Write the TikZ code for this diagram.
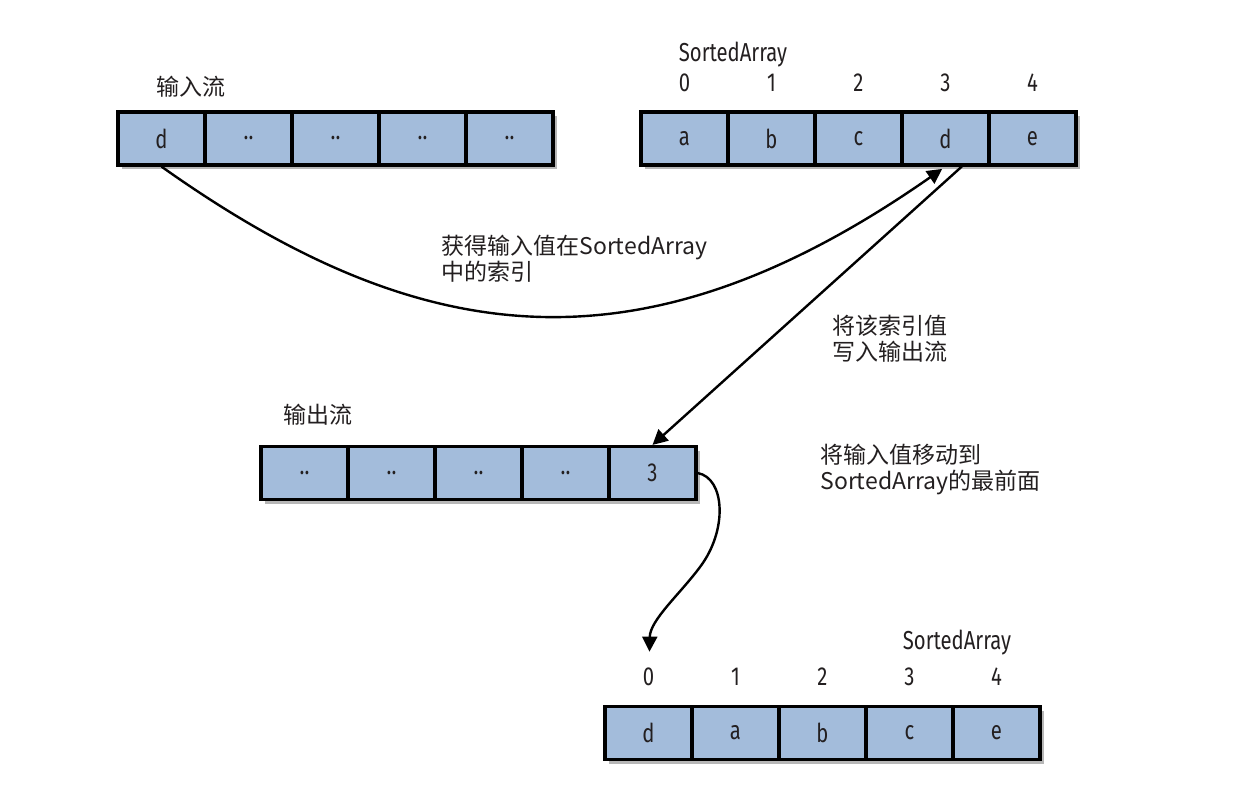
\documentclass[tikz,border=0pt]{standalone}
\usepackage{fontspec}
\setmainfont{Noto Sans CJK SC}
\newfontfamily\condf[FakeStretch=0.78]{Fira Sans}
\usetikzlibrary{shadows,arrows.meta,calc}
\definecolor{cellblue}{HTML}{A3BCDB}
\definecolor{inkc}{HTML}{231F20}
\newcommand\twodots{..}
\begin{document}
\begin{tikzpicture}[x=0.5pt,y=-0.5pt,
  cell/.style={draw=black, line width=1.6pt, fill=cellblue, minimum width=43.5pt,
    minimum height=26.5pt, inner sep=0pt, font=\condf\fontsize{13}{15}\selectfont, text=inkc,
    drop shadow={shadow xshift=1.8pt, shadow yshift=-2.2pt, opacity=0.35, fill=black!80}},
  idx/.style={font=\condf\fontsize{13}{15}\selectfont, text=inkc, inner sep=0pt},
  lbl/.style={font=\fontsize{11.5}{13}\selectfont, text=inkc, align=left, inner sep=0pt},
  conn/.style={line width=1.2pt, -{Triangle[length=7.5pt,width=7.5pt]}}]
\fill[white] (0,0) rectangle (1258,798);
\useasboundingbox (0,0) rectangle (1258,798);

% input stream
\node[lbl] (h1) at (191,87) {输入流};
\foreach \t [count=\i] in {d,\twodots,\twodots,\twodots,\twodots}
  \node[cell] (in\i) at ({118+87*(\i-0.5)},138.5) {\t};

% sorted array (top)
\node[idx] (sah) at (733,55) {SortedArray};
\foreach \i in {0,...,4}
  \node[idx] (sai\i) at ({641+87*(\i+0.5)},83) {\i};
\foreach \t [count=\i] in {a,b,c,d,e}
  \node[cell] (sa\i) at ({641+87*(\i-0.5)},138.5) {\t};

% output stream
\node[lbl] (h2) at (318,415) {输出流};
\foreach \t [count=\i] in {\twodots,\twodots,\twodots,\twodots,3}
  \node[cell] (out\i) at ({261+87*(\i-0.5)},473) {\t};

% sorted array (bottom)
\node[idx] (sbh) at (957,643) {SortedArray};
\foreach \i in {0,...,4}
  \node[idx] (sbi\i) at ({605+87*(\i+0.5)},677) {\i};
\foreach \t [count=\i] in {d,a,b,c,e}
  \node[cell] (sb\i) at ({605+87*(\i-0.5)},733) {\t};

% labels
\node[lbl, anchor=west] (l1) at (441,259) {获得输入值在SortedArray\\中的索引};
\node[lbl, anchor=west] (l2) at (832,339) {将该索引值\\写入输出流};
\node[lbl, anchor=west] (l3) at (820,469) {将输入值移动到\\SortedArray的最前面};

% connectors
\coordinate (tip3) at ($(sbi0.north)+(1,-16)$);
\draw[conn, shorten >=2pt] (in1.south) .. controls (420,350) and (640,380) .. (sa4.south);
\draw[conn] (sa4.-60) -- (out5.north);
\draw[conn] (out5.east) .. controls (725,478) and (728,530) .. (700,567)
  .. controls (680,594) and (650,620) .. (tip3);
\end{tikzpicture}
\end{document}
